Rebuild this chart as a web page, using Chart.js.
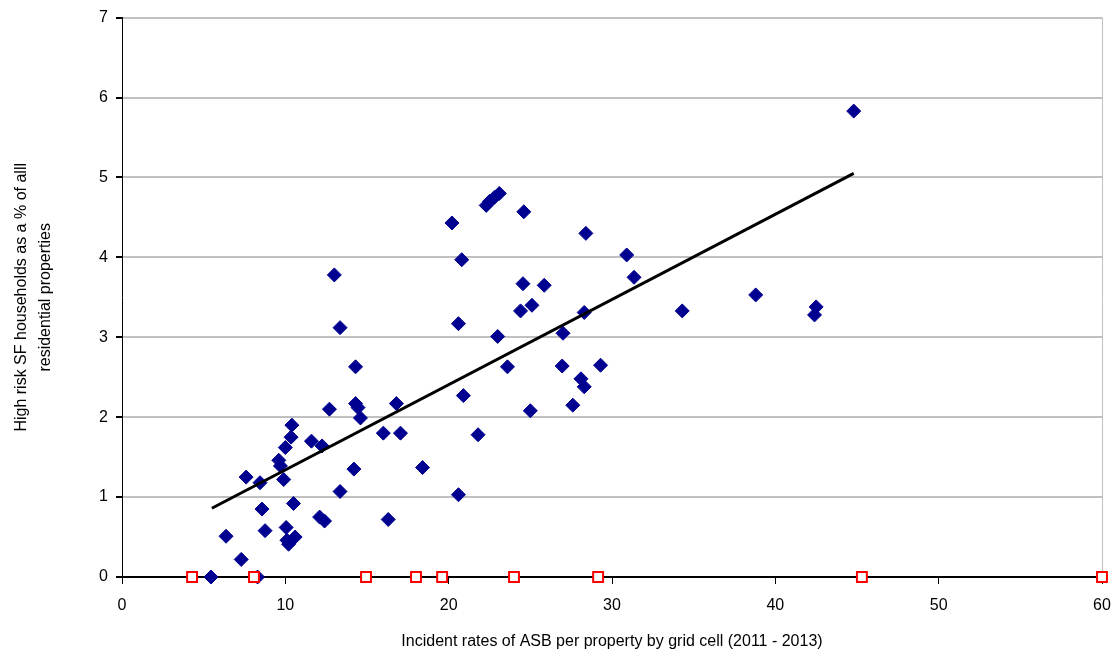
<!DOCTYPE html>
<html>
<head>
<meta charset="utf-8">
<script src="https://cdn.jsdelivr.net/npm/chart.js@4/dist/chart.umd.min.js"></script>
<style>
  html, body { margin: 0; padding: 0; background: #fff; }
  #wrap { width: 1120px; height: 657px; }
</style>
</head>
<body>
<div id="wrap"><canvas id="asbChart"></canvas></div>
<script>
// grid cells: ASB incident rate vs high risk SF households (%)
var cellRates = [5.45, 6.37, 7.3, 7.6, 8.45, 8.57, 8.3, 8.76, 9.6, 9.7, 9.9, 10.0, 10.4, 10.35, 10.05, 10.1, 10.2, 10.6, 10.5,
  11.6, 12.1, 12.4, 12.25, 12.7, 13.0, 13.35, 13.35, 14.2, 14.3, 14.3, 14.45, 14.6, 16.0, 16.3, 16.8, 17.05, 18.4,
  20.2, 20.6, 20.6, 20.8, 20.9, 21.8, 22.3, 22.5, 22.8, 23.1, 23.0, 23.6, 24.6, 24.55, 24.4, 25.1, 25.0, 25.85,
  27.0, 26.95, 27.6, 28.1, 28.3, 28.3, 28.4, 29.3, 30.9, 31.35, 34.3, 38.8, 42.4, 42.5, 44.8];
var cellShares = [0, 0.51, 0.22, 1.25, 1.18, 0.85, 0, 0.58, 1.46, 1.39, 1.22, 1.62, 1.9, 1.75, 0.62, 0.46, 0.41, 0.5, 0.92,
  1.7, 0.75, 0.7, 1.64, 2.1, 3.78, 3.12, 1.07, 1.35, 2.63, 2.17, 2.12, 1.99, 1.8, 0.72, 2.17, 1.8, 1.37,
  4.43, 1.03, 3.17, 3.97, 2.27, 1.78, 4.65, 4.7, 4.75, 4.8, 3.01, 2.63, 4.57, 3.67, 3.33, 3.4, 2.08, 3.65,
  3.05, 2.64, 2.15, 2.48, 2.38, 3.31, 4.3, 2.65, 4.03, 3.75, 3.33, 3.53, 3.28, 3.38, 5.83];

// cells with no high risk households (red markers on the axis)
var zeroRates = [4.29, 8.08, 14.94, 18.0, 19.6, 24.0, 29.15, 45.3, 60.0];
var zeroShares = [0, 0, 0, 0, 0, 0, 0, 0, 0];

// linear trend line end points
var trendX = [5.5, 44.8];
var trendY = [0.86, 5.05];

var xTicks = [0, 10, 20, 30, 40, 50, 60];
var yTicks = [0, 1, 2, 3, 4, 5, 6, 7];

function toPoints(xs, ys) {
  var pts = [];
  for (var i = 0; i < xs.length; i++) pts.push({ x: xs[i], y: ys[i] });
  return pts;
}

var rightBorder = {
  id: 'rightBorder',
  beforeDatasetsDraw: function(chart) {
    var a = chart.chartArea, ctx = chart.ctx;
    ctx.save();
    ctx.strokeStyle = '#c0c0c0';
    ctx.lineWidth = 1;
    ctx.beginPath();
    ctx.moveTo(a.right + 0.5, a.top);
    ctx.lineTo(a.right + 0.5, a.bottom);
    ctx.stroke();
    ctx.restore();
  }
};

var font = { family: 'Liberation Sans, Arial, sans-serif', size: 16 };

var ctx = document.getElementById('asbChart').getContext('2d');
var asbChart = new Chart(ctx, {
  type: 'scatter',
  data: {
    datasets: [{
      label: 'No households',
      data: toPoints(zeroRates, zeroShares),
      pointStyle: 'rect',
      pointRadius: 7,
      pointBackgroundColor: '#ffffff',
      pointBorderColor: '#ff0000',
      pointBorderWidth: 2,
      clip: false,
      order: 0
    }, {
      label: 'Trend',
      type: 'line',
      data: toPoints(trendX, trendY),
      borderColor: '#000000',
      borderWidth: 3,
      pointRadius: 0,
      fill: false,
      order: 1
    }, {
      label: 'Grid cells',
      data: toPoints(cellRates, cellShares),
      pointStyle: 'rectRot',
      pointRadius: 7,
      pointBackgroundColor: '#000090',
      pointBorderColor: '#000090',
      pointBorderWidth: 1,
      clip: false,
      order: 2
    }]
  },
  options: {
    responsive: true,
    maintainAspectRatio: false,
    animation: false,
    layout: { padding: { top: 17, right: 18, left: 6, bottom: 0 } },
    plugins: {
      legend: { display: false },
      tooltip: { enabled: false }
    },
    scales: {
      x: {
        type: 'linear',
        min: 0,
        max: 60,
        afterBuildTicks: function(scale) {
          scale.ticks = xTicks.map(function(v) { return { value: v }; });
        },
        afterFit: function(scale) {
          scale.height = 80;
          scale.paddingRight = 0;
        },
        grid: { drawOnChartArea: false, drawTicks: true, tickLength: 7, tickColor: '#000000' },
        border: { color: '#000000', width: 2 },
        ticks: { color: '#000000', font: font, padding: 12, maxRotation: 0 },
        title: {
          display: true,
          text: 'Incident rates of ASB per property by grid cell (2011 - 2013)',
          color: '#000000',
          font: font,
          padding: { top: 8, bottom: 6 }
        }
      },
      y: {
        type: 'linear',
        min: 0,
        max: 7,
        afterBuildTicks: function(scale) {
          scale.ticks = yTicks.map(function(v) { return { value: v }; });
        },
        afterFit: function(scale) { scale.width = 116; },
        grid: { color: '#c0c0c0', lineWidth: 2, tickLength: 6, tickColor: '#000000' },
        border: { color: '#000000', width: 1 },
        ticks: { color: '#000000', font: font, padding: 8 },
        title: {
          display: true,
          text: ['High risk SF households as a % of alll', 'residential properties'],
          color: '#000000',
          font: { family: font.family, size: 16, lineHeight: 1.5 },
          padding: { bottom: 8 }
        }
      }
    }
  },
  plugins: [rightBorder]
});
</script>
</body>
</html>
